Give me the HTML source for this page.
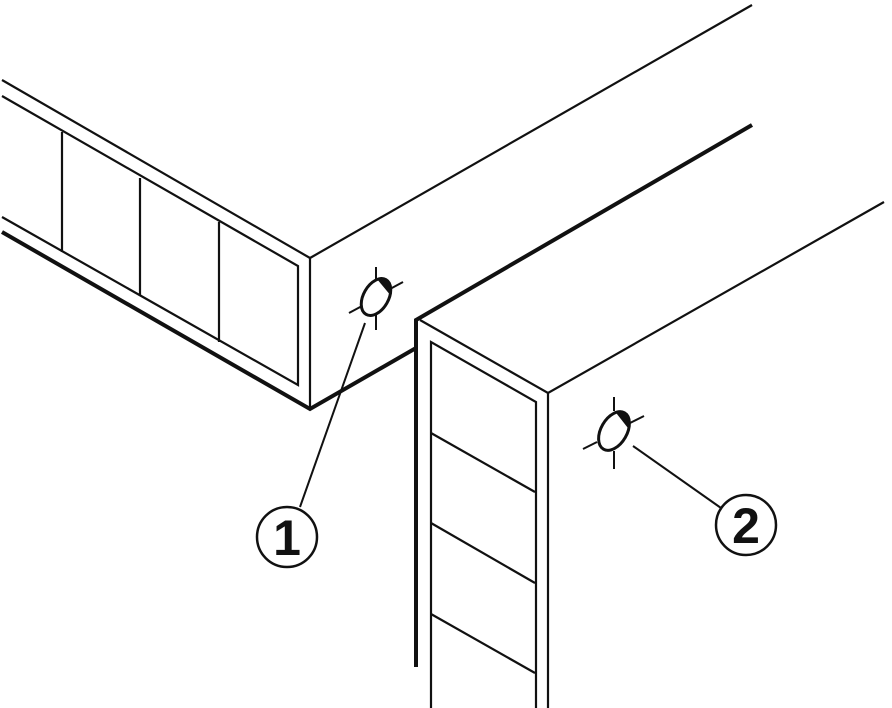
<!DOCTYPE html>
<html><head><meta charset="utf-8"><style>
html,body{margin:0;padding:0;background:#fff;}
svg{display:block;}
</style></head><body>
<svg width="892" height="708" viewBox="0 0 892 708" xmlns="http://www.w3.org/2000/svg" fill="none" stroke="#111" stroke-linecap="butt" stroke-linejoin="miter">
<!-- Left cabinet -->
<line x1="2" y1="80" x2="310" y2="258" stroke-width="2.2"/>
<line x1="310" y1="258" x2="752" y2="5" stroke-width="2.2"/>
<polyline points="2,96 298,266 298,385 2,217" stroke-width="2.2"/>
<polyline points="2,232 310,409 416,348" stroke-width="4"/>
<line x1="310" y1="258" x2="310" y2="408" stroke-width="2.2"/>
<line x1="62" y1="132" x2="62" y2="252" stroke-width="2.2"/>
<line x1="140" y1="178" x2="140" y2="296" stroke-width="2.2"/>
<line x1="219" y1="222" x2="219" y2="342" stroke-width="2.2"/>
<!-- Right cabinet -->
<polyline points="416,667 416,320 752,125" stroke-width="4"/>
<polyline points="420,320 548,393 884,202" stroke-width="2.2"/>
<polyline points="431,708 431,342 536,402 536,708" stroke-width="2.2"/>
<line x1="548" y1="393" x2="548" y2="708" stroke-width="2.2"/>
<line x1="431" y1="433" x2="535" y2="492" stroke-width="2.2"/>
<line x1="431" y1="523" x2="535" y2="583" stroke-width="2.2"/>
<line x1="431" y1="614" x2="535" y2="673" stroke-width="2.2"/>
<!-- Hole 1 -->
<g transform="translate(376,297) rotate(30)">
<ellipse cx="0" cy="0" rx="12.5" ry="20" stroke-width="3"/>
<path d="M-8,-16 A12.5,20 0 0 1 11,-9 Z" fill="#111" stroke="none"/>
</g>
<line x1="376" y1="267" x2="376" y2="279" stroke-width="2"/>
<line x1="376" y1="315" x2="376" y2="330" stroke-width="2"/>
<line x1="390" y1="289" x2="403" y2="282" stroke-width="2"/>
<line x1="349" y1="313" x2="362" y2="306" stroke-width="2"/>
<line x1="365" y1="323" x2="300" y2="507" stroke-width="2"/>
<circle cx="287" cy="537" r="30" stroke-width="2.5"/>
<text x="287" y="555" font-family="Liberation Sans, sans-serif" font-weight="bold" font-size="50" fill="#111" stroke="none" text-anchor="middle">1</text>
<!-- Hole 2 -->
<g transform="translate(614,431) rotate(30)">
<ellipse cx="0" cy="0" rx="13" ry="21" stroke-width="3"/>
<path d="M-8,-17 A13,21 0 0 1 12,-9 Z" fill="#111" stroke="none"/>
</g>
<line x1="614" y1="397" x2="614" y2="411" stroke-width="2"/>
<line x1="614" y1="451" x2="614" y2="469" stroke-width="2"/>
<line x1="630" y1="423" x2="644" y2="416" stroke-width="2"/>
<line x1="583" y1="449" x2="597" y2="442" stroke-width="2"/>
<line x1="633" y1="446" x2="721" y2="508" stroke-width="2"/>
<circle cx="746" cy="525" r="30" stroke-width="2.5"/>
<text x="746" y="543" font-family="Liberation Sans, sans-serif" font-weight="bold" font-size="50" fill="#111" stroke="none" text-anchor="middle">2</text>
</svg>
</body></html>
